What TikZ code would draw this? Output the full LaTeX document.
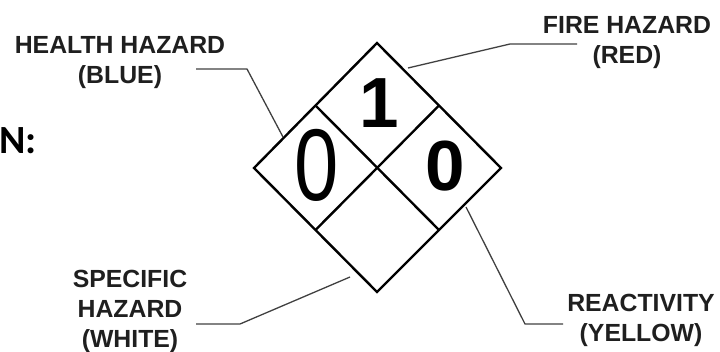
\documentclass[tikz,border=0pt]{standalone}
\usepackage{fontspec}
\setmainfont{Liberation Sans}
\newfontfamily\calibrifont{Carlito}
\usetikzlibrary{calc}
\begin{document}
\begin{tikzpicture}[x=1pt,y=-1pt,
  edge/.style={line width=2.4pt,black,line join=miter},
  leader/.style={line width=1.3pt,black!75},
  lbl/.style={inner sep=0pt,align=center,anchor=north,text=black!88,
    font=\bfseries\fontsize{24.8}{30}\selectfont},
  digit/.style={inner sep=0pt,font=\bfseries\fontsize{71}{71}\selectfont}]
\useasboundingbox (0,0) rectangle (720,351);
% diamond vertices
\coordinate (T) at (377,43);
\coordinate (R) at (501,168);
\coordinate (B) at (377,292);
\coordinate (L) at (254,168);
\draw[edge] (T) -- (R) -- (B) -- (L) -- cycle;
\draw[edge] ($(T)!0.5!(L)$) -- ($(R)!0.5!(B)$);
\draw[edge] ($(T)!0.5!(R)$) -- ($(L)!0.5!(B)$);
% numbers
\node[digit] (n1) at (379,103) {1};
\node[digit] (n3) at (445,166) {0};
\node[inner sep=0pt,font=\fontsize{102}{102}\selectfont] (n2) at (317,165) {\scalebox{0.78}[1]{0}};
% left text
\node[inner sep=0pt,anchor=west,font=\calibrifont\bfseries\fontsize{40}{40}\selectfont] (legend) at (-1,141) {N:};
% labels
\node[lbl] (health) at (120,36) {HEALTH HAZARD\\(BLUE)};
\node[lbl] (fire) at (627,16) {FIRE HAZARD\\(RED)};
\node[lbl] (spec) at (130,270) {SPECIFIC\\HAZARD\\(WHITE)};
\node[lbl] (react) at (641,294) {REACTIVITY\\(YELLOW)};
% leader coordinates
\coordinate (h0) at (196,69); \coordinate (h1) at (247,69); \coordinate (h2) at (283,137);
\coordinate (f0) at (577,44); \coordinate (f1) at (510,44); \coordinate (f2) at (408,68);
\coordinate (s0) at (196,324); \coordinate (s1) at (240,324); \coordinate (s2) at (350,277);
\coordinate (r0) at (563,324); \coordinate (r1) at (525,324); \coordinate (r2) at (466,207);
\draw[leader] (h0) -- (h1) -- (h2);
\draw[leader] (f0) -- (f1) -- (f2);
\draw[leader] (s0) -- (s1) -- (s2);
\draw[leader] (r0) -- (r1) -- (r2);
\end{tikzpicture}
\end{document}
